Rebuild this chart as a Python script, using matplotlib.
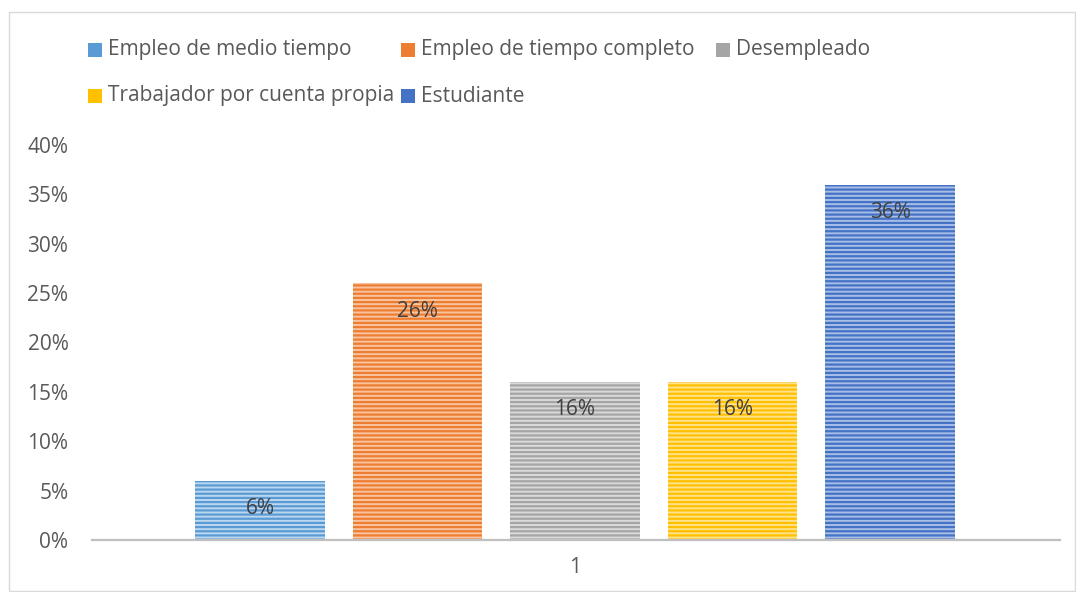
import matplotlib
matplotlib.use("Agg")
import matplotlib.pyplot as plt
from matplotlib.patches import Rectangle
from matplotlib.ticker import FuncFormatter

categories = ["Empleo de medio tiempo", "Empleo de tiempo completo", "Desempleado",
              "Trabajador por cuenta propia", "Estudiante"]
values = [0.06, 0.26, 0.16, 0.16, 0.36]
group_label = "1"
yticks = [0, 0.05, 0.10, 0.15, 0.20, 0.25, 0.30, 0.35, 0.40]

stripe_colors = ["#5B9BD5", "#ED7D31", "#A5A5A5", "#FFC000", "#4472C4"]
fill_colors = ["#BCD7F0", "#F8C4A0", "#DADADA", "#FFE38C", "#A9BEE6"]

plt.rcParams['font.family'] = ['Open Sans', 'DejaVu Sans']
plt.rcParams['hatch.linewidth'] = 1.6

W, H = 1076, 592
fig = plt.figure(figsize=(W / 100, H / 100), dpi=100)

def fx(px):
    return px / W

def fy(py):
    return 1 - py / H

# chart border
fig.patches.append(Rectangle((fx(9), fy(591)), fx(1075) - fx(9), fy(12) - fy(591),
                             transform=fig.transFigure, fill=False,
                             edgecolor="#D9D9D9", linewidth=1.0))

ax = fig.add_axes([fx(92), fy(540), fx(1060) - fx(92), fy(145) - fy(540)])
positions = list(range(len(categories)))
bars = ax.bar(positions, values, width=0.825, color=fill_colors,
              edgecolor=stripe_colors, linewidth=0, hatch="----")

for b, v in zip(bars, values):
    ax.annotate(f"{round(v * 100)}%", (b.get_x() + b.get_width() / 2, v),
                xytext=(0, -20), textcoords="offset points",
                ha="center", va="center", fontsize=15, color="#404040")

ax.set_xlim(2 - (575 - 92) / 157.5, 2 + (1060 - 575) / 157.5)
ax.set_ylim(0, 0.40)
ax.set_yticks(yticks)
ax.yaxis.set_major_formatter(FuncFormatter(lambda v, p: f"{round(v * 100)}%"))
ax.set_xticks([2])
ax.set_xticklabels([group_label])
ax.tick_params(axis="both", length=0, labelsize=15, labelcolor="#595959")
ax.tick_params(axis="y", pad=17)
ax.tick_params(axis="x", pad=12)
for s in ["top", "right", "left"]:
    ax.spines[s].set_visible(False)
ax.spines["bottom"].set_color("#BFBFBF")
ax.spines["bottom"].set_linewidth(1.6)

# legend (3 columns, 2 rows)
col_x = [88, 401, 716]
row_y = [50, 96]
for i, (cat, fc, sc) in enumerate(zip(categories, fill_colors, stripe_colors)):
    r, c = divmod(i, 3)
    x0, yc = col_x[c], row_y[r]
    fig.patches.append(Rectangle((fx(x0), fy(yc + 7)), fx(14), 14 / H,
                                 transform=fig.transFigure, facecolor=fc,
                                 edgecolor=sc, linewidth=0, hatch="--------"))
    fig.text(fx(x0 + 20), fy(yc), cat, fontsize=15, color="#595959",
             ha="left", va="center")

fig.savefig("out.png", dpi=100)
